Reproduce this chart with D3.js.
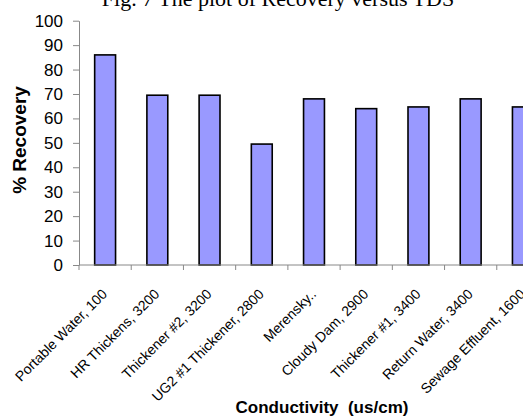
<!DOCTYPE html>
<html>
<head>
<meta charset="utf-8">
<script src="https://cdn.jsdelivr.net/npm/d3@7"></script>
<style>
  html, body { margin: 0; padding: 0; background: #ffffff; }
  svg { display: block; }
</style>
</head>
<body>
<svg id="chart" width="523" height="419"></svg>
<script>
const categories = [
  "Portable Water, 100",
  "HR Thickens, 3200",
  "Thickener #2, 3200",
  "UG2 #1 Thickener, 2800",
  "Merensky..",
  "Cloudy Dam, 2900",
  "Thickener #1, 3400",
  "Return Water, 3400",
  "Sewage Effluent, 1600"
];
const recovery = [86, 69.5, 69.5, 49.5, 68, 64, 64.7, 68, 64.7];
const yTicks = [0, 10, 20, 30, 40, 50, 60, 70, 80, 90, 100];

const chartTitle = "Fig. 7 The plot of Recovery versus TDS";
const yTitle = "% Recovery";
const xTitle = "Conductivity  (us/cm)";

const svg = d3.select("#chart");
const plotLeft = 79, plotRight = 549, plotTop = 20.7, plotBottom = 265;

const x = d3.scaleBand().domain(categories).range([plotLeft, plotRight]).paddingInner(0.6).paddingOuter(0.3);
const xEdges = d3.scaleBand().domain(categories).range([plotLeft, plotRight]).padding(0);
const y = d3.scaleLinear().domain([0, 100]).range([plotBottom, plotTop]);

// title (partly cut off at the top, as in the reference)
svg.append("text")
  .attr("x", 278).attr("y", 6)
  .attr("text-anchor", "middle")
  .attr("font-family", "'Liberation Serif', 'Times New Roman', serif")
  .attr("font-size", 22)
  .attr("fill", "#000")
  .text(chartTitle);

// bars
svg.append("g").selectAll("rect")
  .data(categories)
  .join("rect")
  .attr("x", d => x(d))
  .attr("width", x.bandwidth())
  .attr("y", (d, i) => y(recovery[i]))
  .attr("height", (d, i) => y(0) - y(recovery[i]))
  .attr("fill", "#9999ff")
  .attr("stroke", "#000")
  .attr("stroke-width", 1.6);

// y axis
const yAxis = svg.append("g")
  .attr("transform", `translate(${plotLeft},0)`)
  .call(d3.axisLeft(y).tickValues(yTicks).tickSize(6).tickPadding(10).tickSizeOuter(0));
yAxis.select(".domain").attr("stroke", "#888");
yAxis.selectAll(".tick line").attr("stroke", "#888");
yAxis.selectAll(".tick text")
  .attr("font-family", "Arial, 'Liberation Sans', sans-serif")
  .attr("font-size", 17)
  .attr("fill", "#000");

// x axis line + boundary ticks
const xg = svg.append("g");
xg.append("line")
  .attr("x1", plotLeft).attr("x2", plotRight)
  .attr("y1", plotBottom).attr("y2", plotBottom)
  .attr("stroke", "#888");
xg.selectAll("line.tk")
  .data(categories)
  .join("line")
  .attr("class", "tk")
  .attr("x1", d => xEdges(d)).attr("x2", d => xEdges(d))
  .attr("y1", plotBottom).attr("y2", plotBottom + 5)
  .attr("stroke", "#888");

// x tick labels
xg.selectAll("text.lbl")
  .data(categories)
  .join("text")
  .attr("class", "lbl")
  .attr("transform", d => `translate(${xEdges(d) + xEdges.bandwidth() / 2 + 3},${plotBottom + 30}) rotate(-45)`)
  .attr("text-anchor", "end")
  .attr("font-family", "Arial, 'Liberation Sans', sans-serif")
  .attr("font-size", 14)
  .attr("fill", "#000")
  .text(d => d);

// axis titles
svg.append("text")
  .attr("transform", `translate(26,140) rotate(-90)`)
  .attr("text-anchor", "middle")
  .attr("font-family", "Arial, 'Liberation Sans', sans-serif")
  .attr("font-weight", "bold")
  .attr("font-size", 19)
  .attr("fill", "#000")
  .text(yTitle);

svg.append("text")
  .attr("x", 322).attr("y", 413)
  .attr("text-anchor", "middle")
  .attr("font-family", "Arial, 'Liberation Sans', sans-serif")
  .attr("font-weight", "bold")
  .attr("font-size", 17)
  .attr("fill", "#000")
  .style("white-space", "pre")
  .text(xTitle);
</script>
</body>
</html>
